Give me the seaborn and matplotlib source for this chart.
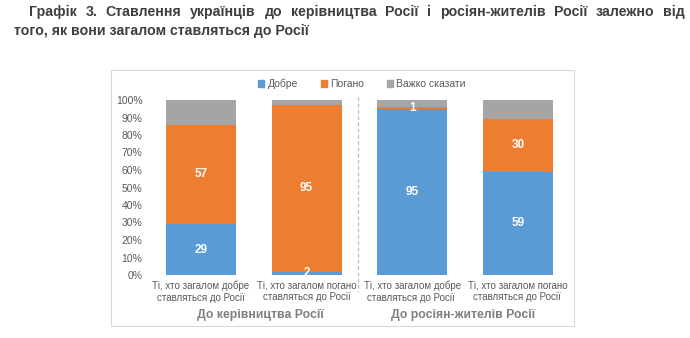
import matplotlib
matplotlib.use("Agg")
import matplotlib.pyplot as plt
from matplotlib.patches import Rectangle
from matplotlib.lines import Line2D
import seaborn as sns
import pandas as pd
import numpy as np

# Data
categories = [
    "Ті, хто загалом добре\nставляться до Росії",
    "Ті, хто загалом погано\nставляться до Росії",
    "Ті, хто загалом добре\nставляться до Росії ",
    "Ті, хто загалом погано\nставляться до Росії ",
]
groups = ["До керівництва Росії", "До росіян-жителів Росії"]
good = [29, 2, 95, 59]
bad = [57, 95, 1, 30]
hard = [14, 3, 4, 11]
series_names = ["Добре", "Погано", "Важко сказати"]
colors = ["#5B9BD5", "#ED7D31", "#A5A5A5"]
yticks = list(range(0, 101, 10))
title_lines = [
    "Графік 3. Ставлення українців до керівництва Росії і росіян-жителів Росії залежно від",
    "того, як вони загалом ставляться до Росії",
]

sns.set_theme(style="white")
plt.rcParams["font.family"] = ["Liberation Sans", "DejaVu Sans"]

W, H = 690, 338
fig = plt.figure(figsize=(W / 100, H / 100), dpi=100)
fig.patch.set_facecolor("white")

# Outer frame of the chart area
fig.patches.append(Rectangle((111 / W, 1 - 326 / H), (574 - 111) / W, (326 - 70) / H,
                             transform=fig.transFigure, fill=False,
                             edgecolor="#D9D9D9", linewidth=0.8))

ax = fig.add_axes([148 / W, 1 - 275 / H, (571 - 148) / W, (275 - 100) / H])

df = pd.DataFrame({"cat": categories, "good": good, "bad": bad, "hard": hard})
bottoms = np.zeros(len(df))
for col, name, color in zip(["good", "bad", "hard"], series_names, colors):
    sns.barplot(data=df, x="cat", y=col, color=color, width=0.66,
                bottom=bottoms, ax=ax, label=name, saturation=1, linewidth=0)
    bottoms = bottoms + df[col].to_numpy()

# Value labels
for i in range(len(df)):
    for vals, base in [(good, 0), (bad, good[i])]:
        v = vals[i]
        ax.text(i, base + v / 2, f"{v}", ha="center", va="center",
                color="white", fontsize=8.5, fontweight="bold")

ax.set_xlim(-0.5, 3.5)
ax.set_ylim(0, 100)
ax.set_yticks(yticks)
ax.set_yticklabels([f"{t}%" for t in yticks], color="#595959", fontsize=7.5)
ax.set_xticks(range(4))
ax.set_xticklabels(categories, color="#595959", fontsize=7, linespacing=1.2)
ax.tick_params(axis="both", length=0, pad=4)
ax.set_xlabel("")
ax.set_ylabel("")
for s in ax.spines.values():
    s.set_visible(False)
ax.legend().remove()

# Dashed separator between the two groups
fig.add_artist(Line2D([358 / W, 358 / W], [1 - 97 / H, 1 - 292 / H],
                      transform=fig.transFigure, color="#BFBFBF",
                      linestyle=(0, (3, 2)), linewidth=0.9))

# Group labels
fig.text(260 / W, 1 - 315 / H, groups[0], ha="center", va="center",
         fontsize=8.8, fontweight="bold", color="#7F7F7F")
fig.text(463 / W, 1 - 315 / H, groups[1], ha="center", va="center",
         fontsize=8.8, fontweight="bold", color="#7F7F7F")

# Legend
handles = [Rectangle((0, 0), 1, 1, color=c) for c in colors]
fig.legend(handles, series_names, loc="center", bbox_to_anchor=(362 / W, 1 - 84 / H),
           ncol=3, frameon=False, fontsize=7.5, handlelength=0.6, handleheight=0.6,
           handletextpad=0.3, columnspacing=2.2, labelcolor="#595959")

# Title: first line justified between its indent and the right margin
title_kw = dict(fontsize=10.2, fontweight="bold", color="#3F3F3F", va="center", ha="left")
renderer = fig.canvas.get_renderer()
words = title_lines[0].split(" ")
x_left, x_right = 29, 685
word_texts = [fig.text(0, 1 - 12 / H, w, **title_kw) for w in words]
widths = [t.get_window_extent(renderer).width for t in word_texts]
gap = (x_right - x_left - sum(widths)) / (len(words) - 1)
x = x_left
for t, w in zip(word_texts, widths):
    t.set_x(x / W)
    x += w + gap
fig.text(14 / W, 1 - 31 / H, title_lines[1], **title_kw)

fig.savefig("out.png", dpi=100, facecolor="white")
